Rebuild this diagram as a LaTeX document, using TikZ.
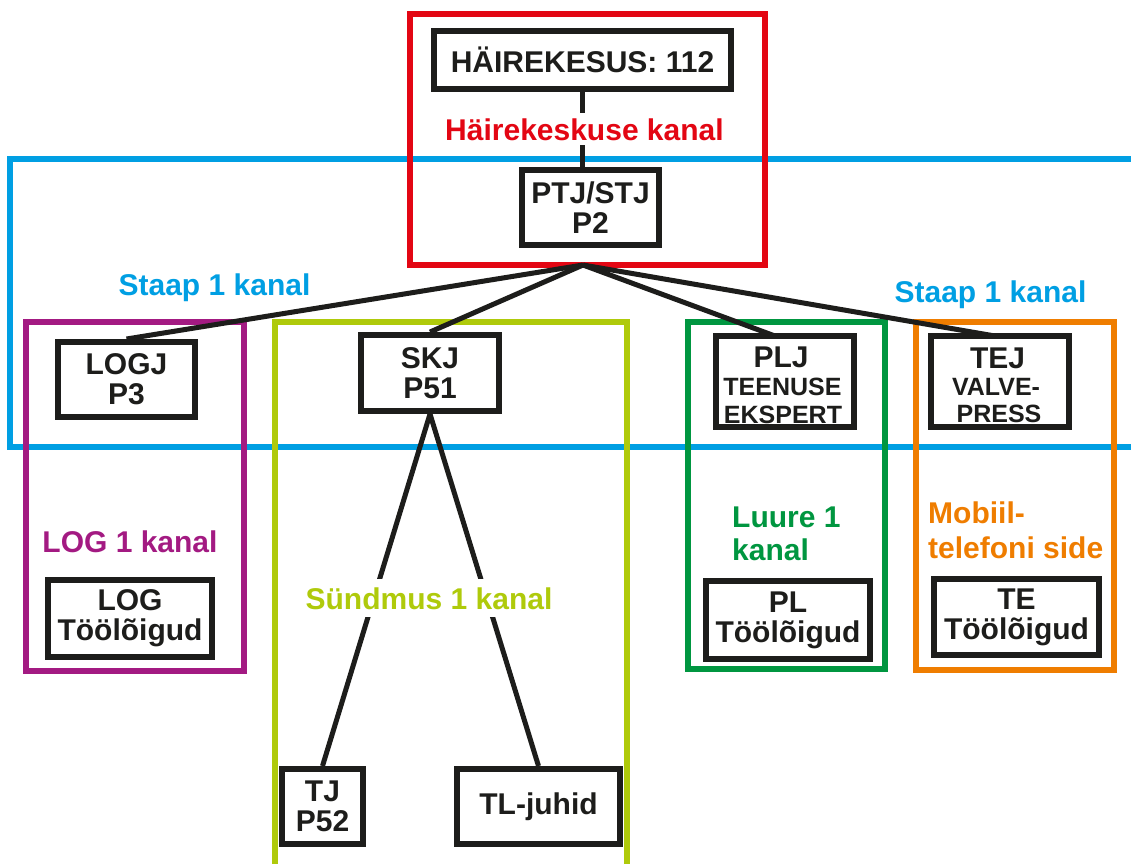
\documentclass[tikz,border=0pt]{standalone}
\usepackage{fontspec}
\setmainfont{Liberation Sans}
\usetikzlibrary{backgrounds}
\definecolor{cred}{HTML}{E30613}
\definecolor{cblue}{HTML}{009FE3}
\definecolor{cpurple}{HTML}{A31A82}
\definecolor{clime}{HTML}{AFCA0B}
\definecolor{cgreen}{HTML}{009640}
\definecolor{corange}{HTML}{EF7D00}
\definecolor{cblack}{HTML}{1D1D1B}
\begin{document}
\begin{tikzpicture}[x=1pt,y=-1pt,
  chan/.style={line width=6pt},
  bbox/.style={draw=cblack, line width=6pt, fill=white, inner sep=0pt, align=center,
    font=\bfseries\fontsize{30}{30}\selectfont, text=cblack},
  conn/.style={draw=cblack, line width=5pt},
  lbl/.style={font=\bfseries\fontsize{30}{33}\selectfont, inner sep=0pt, anchor=base},
  small/.style={font=\bfseries\fontsize{25}{28}\selectfont, inner sep=0pt, anchor=base, text=cblack},
]
\useasboundingbox (0,0) rectangle (1131,863);
\clip (0,0) rectangle (1131,863);

% boxes
\node[bbox, minimum width=297, minimum height=58] (hk) at (582.5,60) {HÄIREKESUS: 112};
\node[bbox, minimum width=137, minimum height=75] (ptj) at (590.5,207.5) {PTJ/STJ\\P2};
\node[bbox, minimum width=137, minimum height=75] (logj) at (126.5,379.5) {LOGJ\\P3};
\node[bbox, minimum width=138, minimum height=76] (skj) at (430,373) {SKJ\\P51};
\node[bbox, minimum width=164, minimum height=77] (log) at (130,618.5) {LOG\\Töölõigud};
\node[bbox, minimum width=164, minimum height=78] (pl) at (788,620) {PL\\Töölõigud};
\node[bbox, minimum width=165, minimum height=76] (te) at (1016.5,617) {TE\\Töölõigud};
\node[bbox, minimum width=81, minimum height=75] (tj) at (322.5,806.5) {TJ\\P52};
\node[bbox, minimum width=163, minimum height=75] (tl) at (538.5,806.5) {TL-juhid};

% PLJ and TEJ boxes: text first, then border on top
\node[lbl, text=cblack] (pljA) at (781,367) {PLJ};
\node[small] (pljB) at (782.5,395) {TEENUSE};
\node[small] (pljC) at (783,423) {EKSPERT};
\node[lbl, text=cblack] (tejA) at (997.5,368) {TEJ};
\node[small] (tejB) at (996,395) {VALVE-};
\node[small] (tejC) at (999,422) {PRESS};
\node[bbox, fill=none, minimum width=138, minimum height=91] (plj) at (785,381.5) {};
\node[bbox, fill=none, minimum width=138, minimum height=91] (tej) at (1000,381.5) {};

% channel labels
\node[lbl, text=cred, fill=white, inner xsep=3pt, inner ysep=5pt] (lhk) at (584.5,140) {Häirekeskuse kanal};
\node[lbl, text=cblue] (ls1) at (214.5,295) {Staap 1 kanal};
\node[lbl, text=cblue] (ls2) at (990.5,302) {Staap 1 kanal};
\node[lbl, text=cpurple] (llog) at (130,552) {LOG 1 kanal};
\node[lbl, text=clime, fill=white, inner xsep=3pt, inner ysep=8pt] (lsnd) at (429,609) {Sündmus 1 kanal};
\node[lbl, text=cgreen, anchor=base west] (lluA) at (732,527) {Luure 1};
\node[lbl, text=cgreen, anchor=base west] (lluB) at (732,560) {kanal};
\node[lbl, text=corange, anchor=base west] (lmoA) at (928,523) {Mobiil-};
\node[lbl, text=corange, anchor=base west] (lmoB) at (928,558) {telefoni side};

\begin{scope}[on background layer]
  \fill[white] (0,0) rectangle (1131,863);
  % channel frames
  \draw[chan, draw=cblue] (10,159) rectangle (1145,447);
  \draw[chan, draw=cred] (410,14) rectangle (765,265);
  \draw[chan, draw=cpurple] (26,322) rectangle (244,671);
  \draw[chan, draw=clime] (275,322) rectangle (627,890);
  \draw[chan, draw=cgreen] (688,322) rectangle (885,669);
  \draw[chan, draw=corange] (916,322) rectangle (1114,670);
  % connectors
  \coordinate (hub) at (583,265);
  \coordinate (pljtop) at (775,336);
  \coordinate (tejtop) at (995,336);
  \draw[conn] (hk.south) -- (hk.south |- ptj.north);
  \draw[conn] (hub) -- (logj.north);
  \draw[conn] (hub) -- (skj.north);
  \draw[conn] (hub) -- (pljtop);
  \draw[conn] (hub) -- (tejtop);
  \draw[conn] (skj.south) -- (tj.north);
  \draw[conn] (skj.south) -- (tl.north);
\end{scope}
\end{tikzpicture}
\end{document}
